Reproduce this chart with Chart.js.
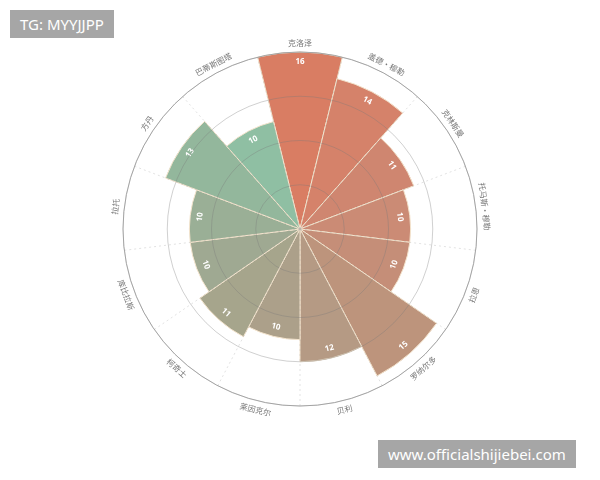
<!DOCTYPE html>
<html>
<head>
<meta charset="utf-8">
<script src="https://cdn.jsdelivr.net/npm/chart.js@4"></script>
<style>
  body { margin: 0; background: #fff; }
  #wrap { position: relative; width: 600px; height: 480px; }
  .tag { position: absolute; background: #a6a6a6; color: #fff; font-family: "Noto Sans", sans-serif; }
</style>
</head>
<body>
<div id="wrap">
  <canvas id="polarChart" width="600" height="480"></canvas>
  <div class="tag" style="left:10px;top:10px;padding:4px 10px;font-size:15px;">TG: MYYJJPP</div>
  <div class="tag" style="left:378px;top:440px;padding:4px 10px;font-size:15px;">www.officialshijiebei.com</div>
</div>
<script>
// players, clockwise from the top
const players = ['克洛泽', '盖德·穆勒', '克林斯曼', '托马斯·穆勒', '拉恩', '罗纳尔多', '贝利',
  '莱因克尔', '柯奇士', '库比拉斯', '拉托', '方丹', '巴蒂斯图塔'];
const goals = [16, 14, 11, 10, 10, 15, 12, 10, 11, 10, 10, 13, 10];
const sliceColors = ['#d97d63', '#d5826a', '#cf8670', '#cb8b75', '#c58e78', '#bd947c', '#b59a84',
  '#aca08a', '#a6a58c', '#9fa992', '#9aaf96', '#93b79c', '#8fbfa3'];

const step = 360 / players.length;

// rotated labels around the ring + value labels inside slices
const ringLabels = {
  id: 'ringLabels',
  afterDatasetsDraw(chart) {
    const ctx = chart.ctx;
    const r = chart.scales.r;
    ctx.save();
    ctx.beginPath();
    ctx.arc(r.xCenter, r.yCenter, r.drawingArea, 0, Math.PI * 2);
    ctx.strokeStyle = '#bbb';
    ctx.lineWidth = 1;
    ctx.stroke();
    ctx.textAlign = 'center';
    ctx.textBaseline = 'middle';
    players.forEach((name, i) => {
      const a = r.getIndexAngle(i) + (step / 2) * Math.PI / 180 - Math.PI / 2;
      const put = (dist, text, font, color) => {
        ctx.save();
        ctx.translate(r.xCenter + Math.cos(a) * dist, r.yCenter + Math.sin(a) * dist);
        let rot = a + Math.PI / 2;
        if (Math.sin(a) > 0.2) rot -= Math.PI;
        ctx.rotate(rot);
        ctx.font = font;
        ctx.fillStyle = color;
        ctx.fillText(text, 0, 0);
        ctx.restore();
      };
      put(r.drawingArea + 9, name, '8px "Noto Sans CJK SC"', '#777');
      put(r.getDistanceFromCenterForValue(goals[i]) - 10, String(goals[i]), 'bold 8px "Noto Sans"', '#fff');
    });
    ctx.restore();
  }
};

new Chart(document.getElementById('polarChart'), {
  type: 'polarArea',
  data: {
    labels: players,
    datasets: [{
      data: goals,
      backgroundColor: sliceColors,
      borderColor: '#f3e3cc',
      borderWidth: 1
    }]
  },
  options: {
    responsive: false,
    animation: false,
    layout: { padding: { top: 52, bottom: 74 } },
    plugins: { legend: { display: false }, tooltip: { enabled: false } },
    scales: {
      r: {
        min: 0,
        max: 16,
        startAngle: -step / 2,
        ticks: { display: false, stepSize: 4 },
        grid: { color: 'rgba(120,120,120,0.35)', borderDash: [2, 3], z: 1 },
        angleLines: { display: true, color: 'rgba(160,160,160,0.3)', borderDash: [2, 3] },
        pointLabels: { display: false }
      }
    }
  },
  plugins: [ringLabels]
});
</script>
</body>
</html>
